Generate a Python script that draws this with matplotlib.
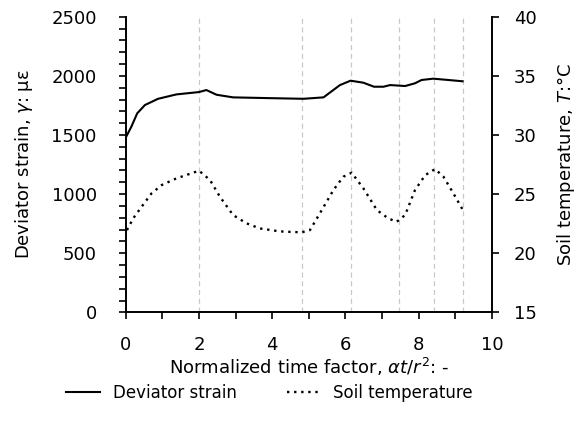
import numpy as np
import matplotlib
matplotlib.use('Agg')
import matplotlib.pyplot as plt
from matplotlib.ticker import MultipleLocator

plt.rcParams['font.family'] = ['DejaVu Sans']
plt.rcParams['mathtext.fontset'] = 'dejavusans'

# deviator strain (left axis)
t_strain = [0.0, 0.15, 0.31, 0.52, 0.88, 1.38, 2.0, 2.2, 2.48, 2.93, 3.85, 4.85,
            5.4, 5.85, 6.14, 6.49, 6.78, 7.04, 7.22, 7.63, 7.9, 8.08, 8.4, 8.81, 9.2]
strain = [1480, 1570, 1683, 1753, 1806, 1843, 1863, 1880, 1840, 1818, 1812, 1806,
          1818, 1922, 1959, 1942, 1908, 1908, 1922, 1914, 1937, 1965, 1976, 1965, 1954]

# soil temperature (right axis)
t_temp = [0.03, 0.2, 0.43, 0.70, 0.98, 1.38, 2.0, 2.30, 2.57, 2.93, 3.30, 3.66,
          4.21, 4.80, 5.03, 5.30, 5.67, 5.94, 6.17, 6.49, 6.86, 7.17, 7.40, 7.63,
          7.90, 8.18, 8.45, 8.68, 8.95, 9.21]
temp = [21.96, 22.95, 23.93, 25.06, 25.77, 26.33, 26.98, 26.19, 24.78, 23.23, 22.53,
        22.10, 21.85, 21.77, 21.96, 23.37, 25.34, 26.47, 26.81, 25.49, 23.65, 22.95,
        22.66, 23.23, 25.34, 26.61, 27.12, 26.47, 25.06, 23.65]

# stage boundaries
stages = [2.0, 4.82, 6.16, 7.45, 8.43, 9.21]

fig = plt.figure(figsize=(5.8, 4.28), dpi=100)
ax = fig.add_axes([0.217, 0.270, 0.631, 0.691])
ax2 = ax.twinx()

for s in stages:
    ax.axvline(s, color='#c8c8c8', lw=0.9, ls=(0, (4, 3)), zorder=0)

l1, = ax.plot(t_strain, strain, color='black', lw=1.5, label='Deviator strain')
l2, = ax2.plot(t_temp, temp, color='black', lw=1.7, ls=(0, (1, 2.0)),
               label='Soil temperature')

ax.set_xlim(0, 10)
ax.set_ylim(0, 2500)
ax2.set_ylim(15, 40)
ax.xaxis.set_major_locator(MultipleLocator(2))
ax.xaxis.set_minor_locator(MultipleLocator(1))
ax.yaxis.set_major_locator(MultipleLocator(500))
ax.yaxis.set_minor_locator(MultipleLocator(100))
ax2.yaxis.set_major_locator(MultipleLocator(5))

for a in (ax, ax2):
    a.spines['top'].set_visible(False)
    for sp in a.spines.values():
        sp.set_linewidth(1.4)
ax.spines['right'].set_visible(False)
ax2.spines['left'].set_visible(False)
ax2.spines['bottom'].set_visible(False)

ax.tick_params(axis='both', which='both', direction='out', length=5, width=1.2,
               labelsize=13)
ax.tick_params(axis='y', which='both', pad=16)
ax.tick_params(axis='x', which='both', pad=12)
ax2.tick_params(axis='y', direction='out', length=5, width=1.2, labelsize=13, pad=11)

ax.set_xlabel('Normalized time factor, $\\alpha t/r^2$: -', fontsize=13, labelpad=1)
ax.set_ylabel('Deviator strain, $\\gamma$: με', fontsize=13, labelpad=12)
ax2.set_ylabel('Soil temperature, $T$:°C', fontsize=13, labelpad=13)

fig.legend(handles=[l1, l2], loc='center', bbox_to_anchor=(0.465, 0.082), ncol=2,
           frameon=False, fontsize=12, handlelength=2.0, columnspacing=3.0)

fig.savefig('out.png', dpi=100)
